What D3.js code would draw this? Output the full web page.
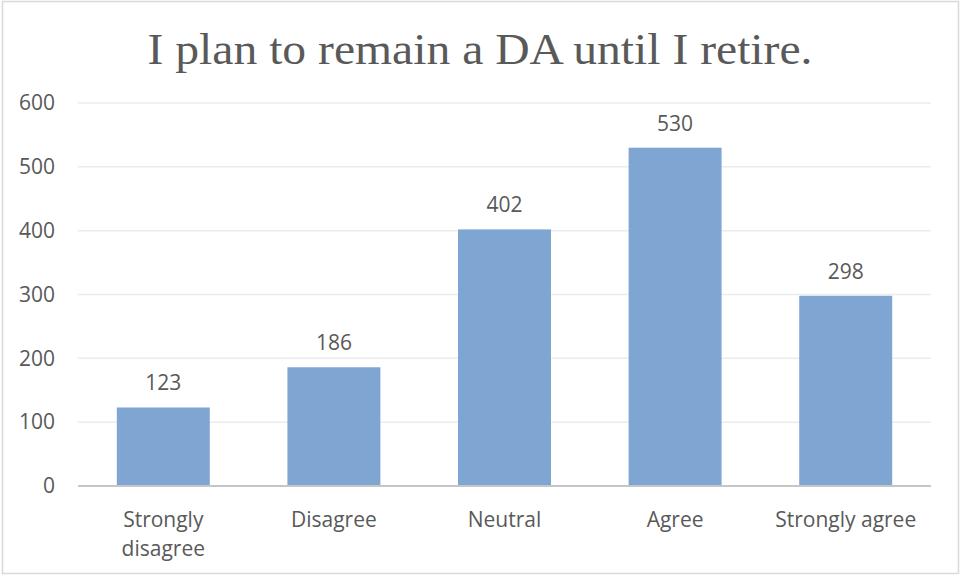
<!DOCTYPE html>
<html>
<head>
<meta charset="utf-8">
<script src="https://cdn.jsdelivr.net/npm/d3@7"></script>
<style>
  body { margin: 0; background: #fff; }
  text { fill: #595959; }
</style>
</head>
<body>
<div id="chart"></div>
<script>
let categories = ['Strongly disagree', 'Disagree', 'Neutral', 'Agree', 'Strongly agree']
let values = [123, 186, 402, 530, 298]
let yTicks = [0, 100, 200, 300, 400, 500, 600]
let title = 'I plan to remain a DA until I retire.'

let width = 962
let height = 577
let margin = { top: 103, left: 78, right: 31, bottom: 91 }

let svg = d3
  .select('#chart')
  .append('svg')
  .attr('width', width)
  .attr('height', height)

svg.append('rect')
  .attr('x', 2.5)
  .attr('y', 1.5)
  .attr('width', 956)
  .attr('height', 572)
  .attr('fill', '#fff')
  .attr('stroke', '#d9d9d9')
  .attr('stroke-width', 1.5)

let x = d3.scaleBand()
  .domain(categories)
  .range([margin.left, width - margin.right])
  .padding(0)

let y = d3.scaleLinear()
  .domain([0, 600])
  .range([height - margin.bottom, margin.top])

// gridlines
svg.selectAll('.grid')
  .data(yTicks.filter(d => d > 0))
  .enter()
  .append('line')
  .attr('x1', margin.left)
  .attr('x2', width - margin.right)
  .attr('y1', d => y(d))
  .attr('y2', d => y(d))
  .attr('stroke', '#ececec')
  .attr('stroke-width', 1.5)

// y axis labels
let yAxis = svg.append('g')
  .attr('transform', 'translate(' + margin.left + ',0)')
  .call(d3.axisLeft(y).tickValues(yTicks).tickSize(0).tickPadding(23))
yAxis.select('.domain').remove()
yAxis.selectAll('text')
  .attr('font-family', 'Open Sans, sans-serif')
  .attr('font-size', '21px')
  .style('fill', '#595959')

let barW = x.bandwidth() * 0.545

svg.selectAll('.bar')
  .data(values)
  .enter()
  .append('rect')
  .attr('x', (d, i) => x(categories[i]) + (x.bandwidth() - barW) / 2)
  .attr('y', d => y(d))
  .attr('width', barW)
  .attr('height', d => y(0) - y(d))
  .attr('fill', '#7fa6d2')

// value labels
svg.selectAll('.val')
  .data(values)
  .enter()
  .append('text')
  .text(d => d)
  .attr('x', (d, i) => x(categories[i]) + x.bandwidth() / 2)
  .attr('y', d => y(d) - 17)
  .attr('text-anchor', 'middle')
  .attr('font-family', 'Open Sans, sans-serif')
  .attr('font-size', '21px')

// x axis line
svg.append('line')
  .attr('x1', margin.left)
  .attr('x2', width - margin.right)
  .attr('y1', y(0))
  .attr('y2', y(0))
  .attr('stroke', '#c6c6c6')
  .attr('stroke-width', 2)

// category labels, wrapped like the original
let labelLines = {
  'Strongly disagree': ['Strongly', 'disagree']
}
categories.forEach(c => {
  let lines = labelLines[c] || [c]
  let t = svg.append('text')
    .attr('x', x(c) + x.bandwidth() / 2)
    .attr('y', y(0) + 41)
    .attr('text-anchor', 'middle')
    .attr('font-family', 'Open Sans, sans-serif')
    .attr('font-size', '21px')
  lines.forEach((l, i) => {
    t.append('tspan')
      .attr('x', x(c) + x.bandwidth() / 2)
      .attr('dy', i == 0 ? 0 : 29)
      .text(l)
  })
})

svg.append('text')
  .text(title)
  .attr('x', 480)
  .attr('y', 64)
  .attr('text-anchor', 'middle')
  .attr('font-family', 'Liberation Serif, serif')
  .attr('font-size', '45px')
  .attr('textLength', 665)
  .attr('lengthAdjust', 'spacingAndGlyphs')
</script>
</body>
</html>
